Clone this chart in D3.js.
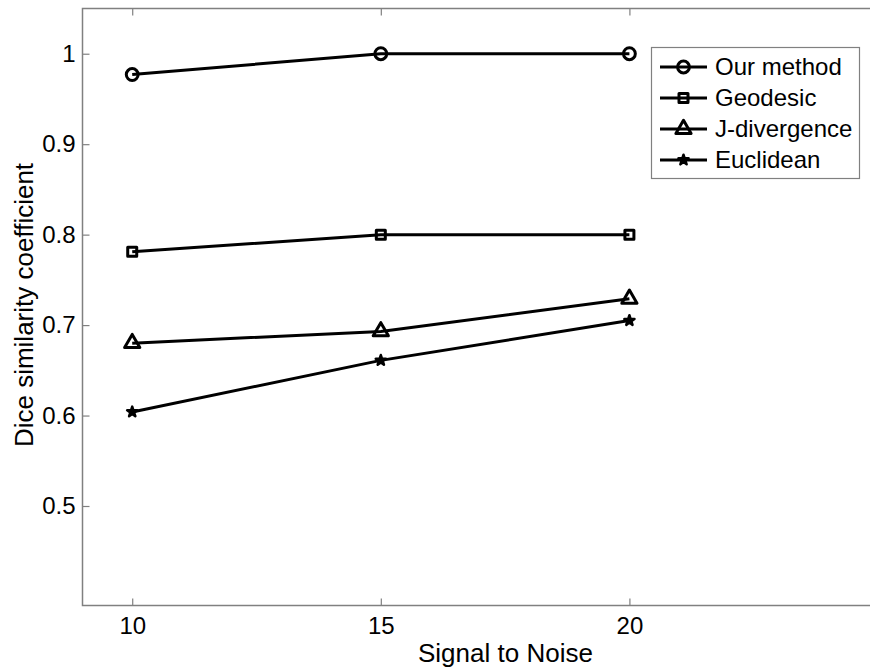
<!DOCTYPE html>
<html>
<head>
<meta charset="utf-8">
<script src="https://cdn.jsdelivr.net/npm/d3@7"></script>
<style>
  body { margin: 0; background: #fff; }
  svg { display: block; font-family: "Liberation Sans", Arial, sans-serif; }
</style>
</head>
<body>
<svg id="chart" width="870" height="670"></svg>
<script>
var snr = [10, 15, 20];
var seriesNames = ['Our method', 'Geodesic', 'J-divergence', 'Euclidean'];
var ourMethod = [0.977, 1.0, 1.0];
var geodesic = [0.781, 0.8, 0.8];
var jDivergence = [0.68, 0.693, 0.729];
var euclidean = [0.604, 0.661, 0.705];
var xTicks = [10, 15, 20];
var yTicks = [0.5, 0.6, 0.7, 0.8, 0.9, 1];

var allSeries = [ourMethod, geodesic, jDivergence, euclidean];
var markers = ['circle', 'square', 'triangle', 'star'];

var svg = d3.select('#chart');
var plotL = 82.5, plotR = 878, plotT = 8.5, plotB = 605.5;

var x = d3.scaleLinear().domain([9, 25]).range([plotL, plotR]);
var y = d3.scaleLinear().domain([0.39, 1.05]).range([plotB, plotT]);

var axisColor = '#808080';

// axes box (right side falls just off the picture)
svg.append('rect')
  .attr('x', plotL).attr('y', plotT)
  .attr('width', plotR - plotL).attr('height', plotB - plotT)
  .attr('fill', 'none').attr('stroke', axisColor).attr('stroke-width', 1.5);

var xAxis = svg.append('g').attr('transform', 'translate(0,' + plotB + ')')
  .call(d3.axisBottom(x).tickValues(xTicks).tickSizeInner(-7).tickSizeOuter(0).tickPadding(11));
var xAxisTop = svg.append('g').attr('transform', 'translate(0,' + plotT + ')')
  .call(d3.axisTop(x).tickValues(xTicks).tickSizeInner(-7).tickSizeOuter(0).tickFormat(''));
var yAxis = svg.append('g').attr('transform', 'translate(' + plotL + ',0)')
  .call(d3.axisLeft(y).tickValues(yTicks).tickSizeInner(-7).tickSizeOuter(0).tickPadding(7)
    .tickFormat(function(d){ return d === 1 ? '1' : d3.format('.1f')(d); }));
var yAxisRight = svg.append('g').attr('transform', 'translate(' + plotR + ',0)')
  .call(d3.axisRight(y).tickValues(yTicks).tickSizeInner(-7).tickSizeOuter(0).tickFormat(''));

[xAxis, xAxisTop, yAxis, yAxisRight].forEach(function(g){
  g.select('.domain').remove();
  g.selectAll('.tick line').attr('stroke', axisColor).attr('stroke-width', 1.2);
  g.selectAll('.tick text').attr('fill', '#000')
    .style('font-family', '"Liberation Sans", Arial, sans-serif')
    .style('font-size', '24px');
});

svg.append('text')
  .attr('x', 418).attr('y', 662)
  .style('font-size', '26px')
  .text('Signal to Noise');

svg.append('text')
  .attr('transform', 'translate(33,305) rotate(-90)')
  .attr('text-anchor', 'middle')
  .style('font-size', '26px')
  .text('Dice similarity coefficient');

function markerPath(type) {
  switch (type) {
    case 'circle': return d3.symbol().type(d3.symbolCircle).size(110)();
    case 'square': return d3.symbol().type(d3.symbolSquare).size(81)();
    case 'triangle': return d3.symbol().type(d3.symbolTriangle).size(100)();
    case 'star': return d3.symbol().type(d3.symbolStar).size(32)();
  }
}

function drawMarker(g, type, cx, cy) {
  g.append('path')
    .attr('d', markerPath(type))
    .attr('transform', 'translate(' + cx + ',' + cy + ')')
    .attr('fill', type === 'star' ? '#000' : 'none')
    .attr('stroke', '#000')
    .attr('stroke-linejoin', 'round')
    .attr('stroke-width', type === 'star' ? 2.5 : 3);
}

var line = d3.line()
  .x(function(d, i){ return x(snr[i]); })
  .y(function(d){ return y(d); });

allSeries.forEach(function(vals, k){
  var g = svg.append('g');
  g.append('path')
    .datum(vals)
    .attr('d', line)
    .attr('fill', 'none')
    .attr('stroke', '#000')
    .attr('stroke-width', 3);
  vals.forEach(function(v, i){
    drawMarker(g, markers[k], x(snr[i]), y(v));
  });
});

// legend
var legend = svg.append('g');
legend.append('rect')
  .attr('x', 651.5).attr('y', 47.5)
  .attr('width', 208).attr('height', 131)
  .attr('fill', '#fff').attr('stroke', axisColor).attr('stroke-width', 1.2);

seriesNames.forEach(function(name, k){
  var ly = 67 + k * 31;
  var row = legend.append('g');
  row.append('line')
    .attr('x1', 660).attr('x2', 707)
    .attr('y1', ly).attr('y2', ly)
    .attr('stroke', '#000').attr('stroke-width', 3);
  drawMarker(row, markers[k], 683.5, ly);
  row.append('text')
    .attr('x', 715).attr('y', ly + 8)
    .style('font-size', '24px')
    .text(name);
});
</script>
</body>
</html>
